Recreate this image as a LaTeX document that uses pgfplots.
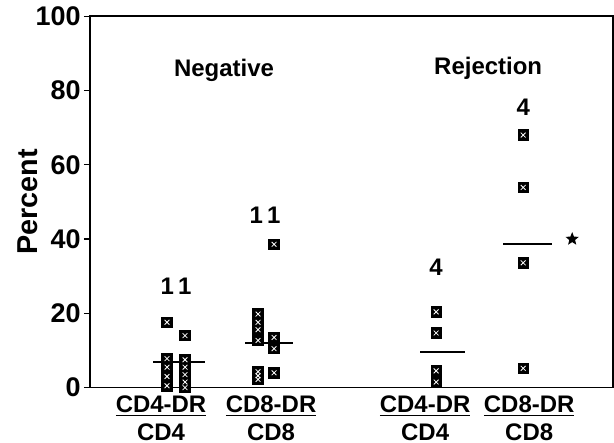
\documentclass[border=0pt]{standalone}
\usepackage{fontspec}
\setmainfont{Liberation Sans}
\usepackage{pgfplots}
\pgfplotsset{compat=1.18}
\usetikzlibrary{shapes.geometric}

% dot marker: black square with a white cross
\pgfplotsset{
  dot/.style={only marks, mark=square*, mark size=2.6pt, mark options={fill=black, draw=black}},
  dotx/.style={only marks, mark=x, mark size=1.7pt, mark options={draw=white, line width=0.4pt}},
  med/.style={black, line width=0.9pt, no marks},
}

\begin{document}
\begin{tikzpicture}
\begin{axis}[
  scale only axis,
  width=262pt, height=186pt,
  xmin=0, xmax=523,
  ymin=0, ymax=100,
  ytick={0,20,40,60,80,100},
  ytick pos=left,
  tick align=outside,
  major tick length=3pt,
  xtick={71,181,335,439},
  xticklabels={{\underline{CD4-DR}\\CD4},{\underline{CD8-DR}\\CD8},{\underline{CD4-DR}\\CD4},{\underline{CD8-DR}\\CD8}},
  xticklabel style={align=center, font=\bfseries\large, inner sep=1pt},
  xtick style={draw=none},
  ytick style={black, line width=0.6pt},
  yticklabel style={font=\bfseries\fontsize{13.5}{16}\selectfont, inner xsep=1.5pt},
  /pgf/number format/assume math mode=true,
  ylabel={\bfseries Percent},
  ylabel style={font=\bfseries\Large, yshift=-6pt},
  axis line style={draw=none},
  clip=false,
]
% Negative, CD4-DR/CD4
\addplot[dot] coordinates {(77,17.6) (77,7.8) (77,5.5) (77,3.0) (77,0.5)
  (95,14.0) (95,7.5) (95,5.5) (95,3.5) (95,1.5) (95,0.0)};
\addplot[dotx] coordinates {(77,17.6) (77,7.8) (77,5.5) (77,3.0) (77,0.5)
  (95,14.0) (95,7.5) (95,5.5) (95,3.5) (95,1.5) (95,0.0)};
\addplot[med] coordinates {(63,6.8) (115,6.8)};
% Negative, CD8-DR/CD8
\addplot[dot] coordinates {(168,19.8) (168,17.6) (168,15.6) (168,12.7) (168,4.3) (168,3.2) (168,2.2)
  (184,38.6) (184,13.5) (184,10.5) (184,4.0)};
\addplot[dotx] coordinates {(168,19.8) (168,17.6) (168,15.6) (168,12.7) (168,4.3) (168,3.2) (168,2.2)
  (184,38.6) (184,13.5) (184,10.5) (184,4.0)};
\addplot[med] coordinates {(155,12.0) (203,12.0)};
% Rejection, CD4-DR/CD4
\addplot[dot] coordinates {(346,20.4) (346,14.7) (346,4.5) (346,1.5)};
\addplot[dotx] coordinates {(346,20.4) (346,14.7) (346,4.5) (346,1.5)};
\addplot[med] coordinates {(330,9.7) (375,9.7)};
% Rejection, CD8-DR/CD8
\addplot[dot] coordinates {(433,68.0) (433,53.9) (433,33.6) (433,5.2)};
\addplot[dotx] coordinates {(433,68.0) (433,53.9) (433,33.6) (433,5.2)};
\addplot[med] coordinates {(413,38.6) (462,38.6)};

% frame, and a little white room on the left
\draw[line width=0.8pt] (rel axis cs:0,0) rectangle (rel axis cs:1,1);
\path (axis description cs:-0.172,0.5);

% annotations
\node[font=\bfseries\large] at (axis cs:134,85.5) {Negative};
\node[font=\bfseries\large] at (axis cs:398,86) {Rejection};
\node[font=\bfseries\large] at (axis cs:86,27.3) {1\,1};
\node[font=\bfseries\large] at (axis cs:175,46.5) {1\,1};
\node[font=\bfseries\large] at (axis cs:346,32.5) {4};
\node[font=\bfseries\large] at (axis cs:433,75.5) {4};
\node[star, star points=5, star point ratio=2.3, fill=black, inner sep=0pt, minimum size=7pt] at (axis cs:482,40) {};
\end{axis}
\end{tikzpicture}
\end{document}
